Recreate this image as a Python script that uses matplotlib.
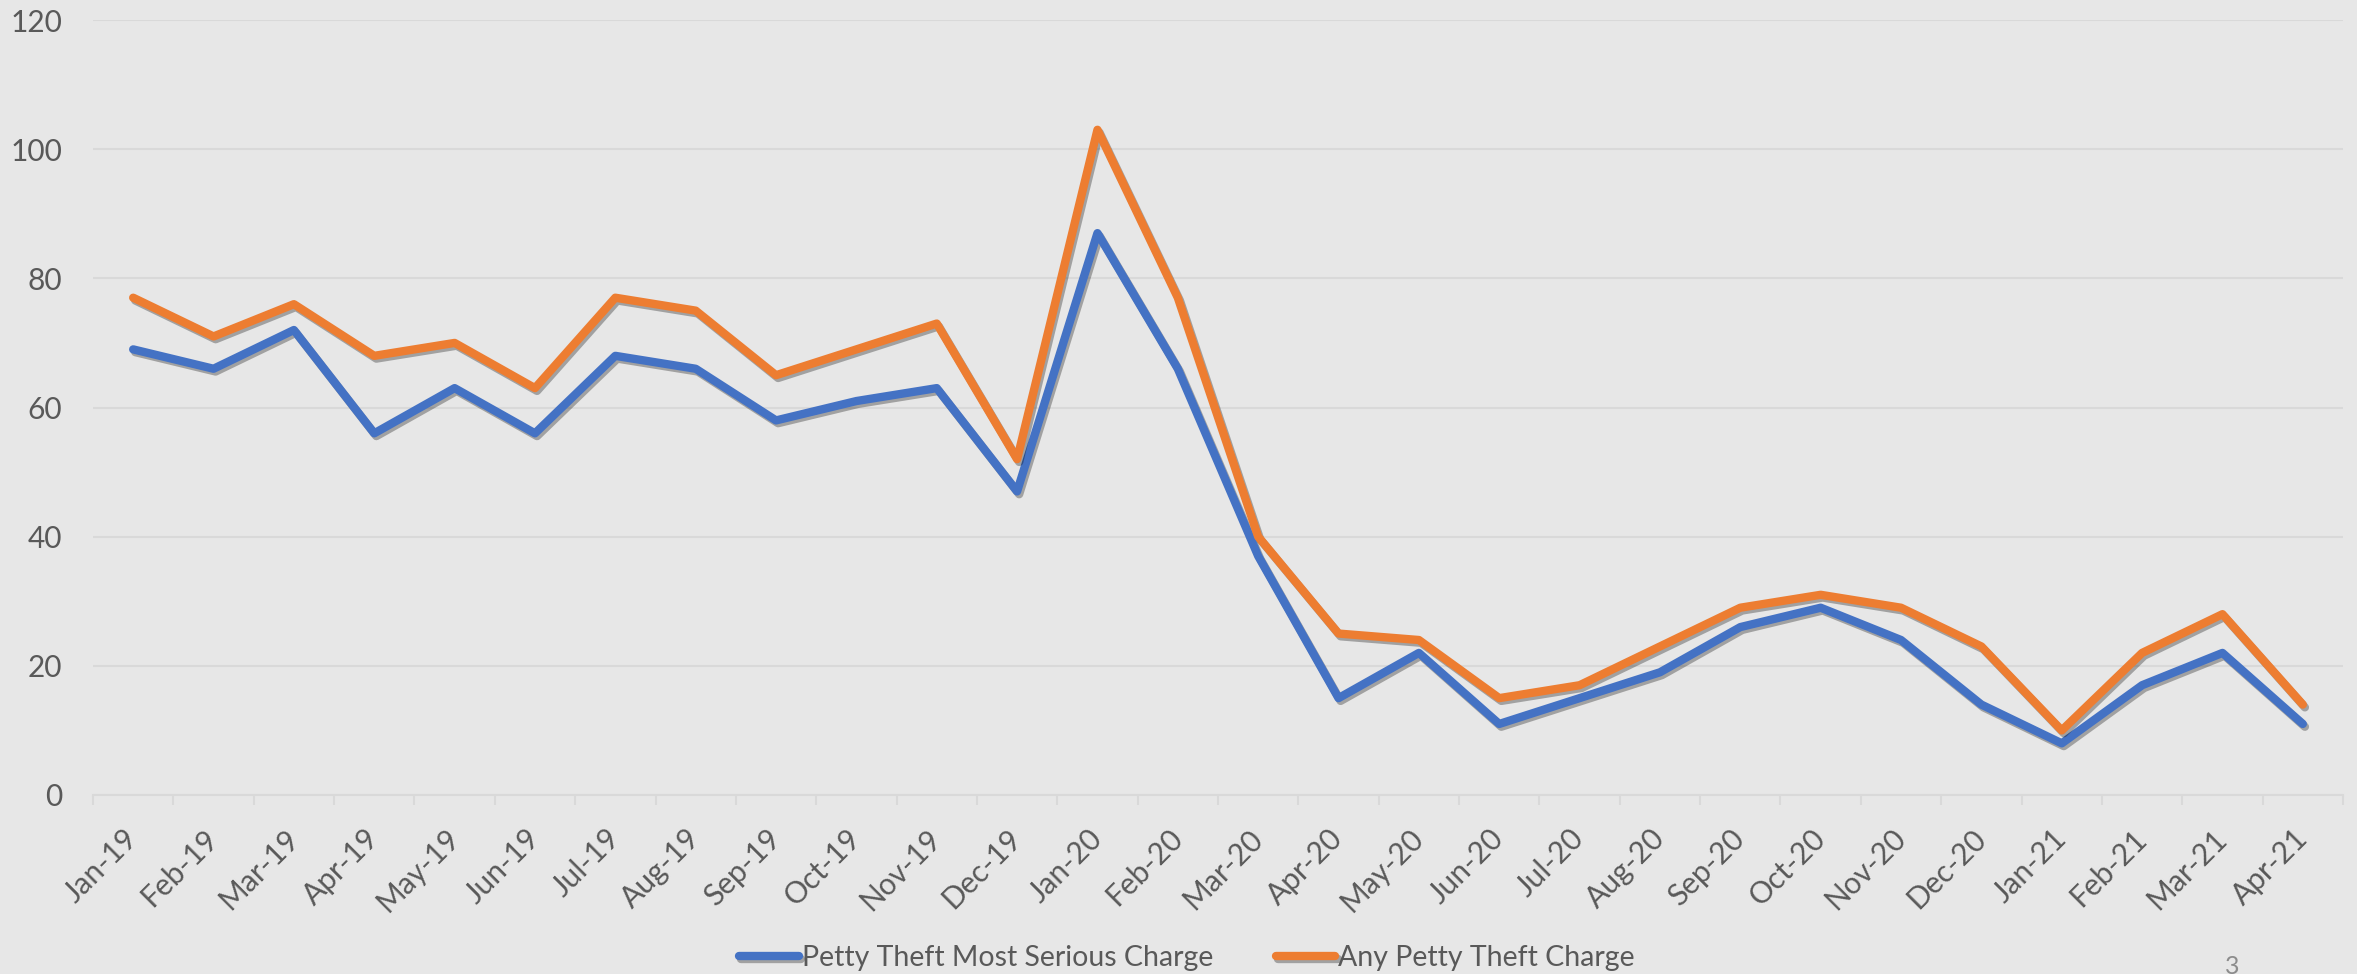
import numpy as np
import matplotlib.pyplot as plt
import matplotlib.patheffects as pe

# Datos
months = ["Jan-19", "Feb-19", "Mar-19", "Apr-19", "May-19", "Jun-19", "Jul-19",
          "Aug-19", "Sep-19", "Oct-19", "Nov-19", "Dec-19", "Jan-20", "Feb-20",
          "Mar-20", "Apr-20", "May-20", "Jun-20", "Jul-20", "Aug-20", "Sep-20",
          "Oct-20", "Nov-20", "Dec-20", "Jan-21", "Feb-21", "Mar-21", "Apr-21"]
most_serious = [69, 66, 72, 56, 63, 56, 68, 66, 58, 61, 63, 47, 87, 66,
                37, 15, 22, 11, 15, 19, 26, 29, 24, 14, 8, 17, 22, 11]
any_charge = [77, 71, 76, 68, 70, 63, 77, 75, 65, 69, 73, 52, 103, 77,
              40, 25, 24, 15, 17, 23, 29, 31, 29, 23, 10, 22, 28, 14]
y_ticks = [0, 20, 40, 60, 80, 100, 120]

bg = '#E7E7E7'
grid_c = '#D9D9D9'
text_c = '#595959'

plt.rcParams['font.family'] = ['Lato', 'DejaVu Sans']

fig = plt.figure(figsize=(23.57, 9.74), dpi=100, facecolor=bg)
ax = fig.add_axes([93/2357, 1-795/974, (2343-93)/2357, (795-20)/974])
ax.set_facecolor(bg)

x = np.arange(len(months))
shadow = [pe.SimpleLineShadow(offset=(1.5, -2), alpha=0.3, shadow_color='k'), pe.Normal()]
ax.plot(x, most_serious, color='#4472C4', linewidth=6, solid_capstyle='round',
        solid_joinstyle='round', path_effects=shadow, label='Petty Theft Most Serious Charge')
ax.plot(x, any_charge, color='#ED7D31', linewidth=6, solid_capstyle='round',
        solid_joinstyle='round', path_effects=shadow, label='Any Petty Theft Charge')

# Ejes
ax.set_xlim(-0.5, len(months) - 0.5)
ax.set_ylim(0, 120)
ax.set_yticks(y_ticks)
ax.tick_params(axis='y', length=0, pad=22, labelsize=21.5, labelcolor=text_c)
ax.grid(axis='y', color=grid_c, linewidth=1.5)
ax.set_axisbelow(True)

ax.set_xticks(x)
ax.set_xticklabels(months, rotation=45, ha='right', va='center', rotation_mode='anchor')
ax.set_xticks(np.arange(-0.5, len(months), 1), minor=True)
ax.tick_params(axis='x', which='major', length=0, pad=28, labelsize=21.5, labelcolor=text_c)
ax.tick_params(axis='x', which='minor', length=7, width=1.5, color=grid_c)

for s in ['top', 'right', 'left']:
    ax.spines[s].set_visible(False)
ax.spines['bottom'].set_color(grid_c)
ax.spines['bottom'].set_linewidth(1.5)

# Leyenda
leg = fig.legend(loc='center', bbox_to_anchor=(1187/2357, 1-958/974), ncol=2,
                 frameon=False, fontsize=20.5, handlelength=2.1, handletextpad=0.1,
                 columnspacing=2.2)
for t in leg.get_texts():
    t.set_color(text_c)

fig.text(2232/2357, 1-955/974, '3', ha='center', va='top', fontsize=18, color='#8C8C8C')

plt.savefig('out.png', dpi=100, facecolor=bg)
